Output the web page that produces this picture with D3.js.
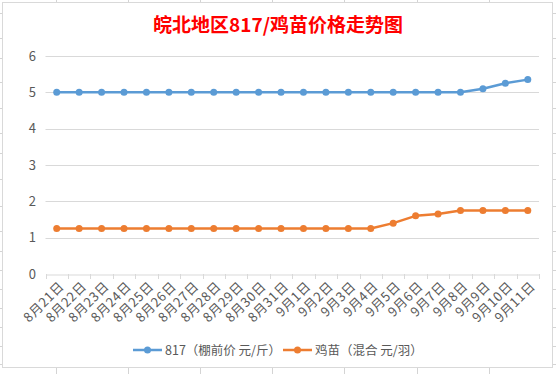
<!DOCTYPE html>
<html>
<head>
<meta charset="utf-8">
<script src="https://cdn.jsdelivr.net/npm/d3@7"></script>
<style>
  body { margin: 0; background: #fff; }
  svg { display: block; font-family: "Noto Sans CJK SC", "Noto Sans", sans-serif; }
</style>
</head>
<body>
<svg id="chart" width="556" height="374"></svg>
<script>
// dates on the x axis
const dates = ["8月21日","8月22日","8月23日","8月24日","8月25日","8月26日","8月27日","8月28日","8月29日","8月30日","8月31日",
  "9月1日","9月2日","9月3日","9月4日","9月5日","9月6日","9月7日","9月8日","9月9日","9月10日","9月11日"];
// 817 shed price, yuan per jin
const price817 = [5,5,5,5,5,5,5,5,5,5,5,5,5,5,5,5,5,5,5,5.1,5.25,5.35];
// chick price, yuan each
const priceChick = [1.25,1.25,1.25,1.25,1.25,1.25,1.25,1.25,1.25,1.25,1.25,1.25,1.25,1.25,1.25,1.4,1.6,1.65,1.75,1.75,1.75,1.75];
const yTicks = [0,1,2,3,4,5,6];
const seriesNames = ["817（棚前价 元/斤）", "鸡苗（混合 元/羽）"];
const colors = ["#5B9BD5", "#ED7D31"];

const svg = d3.select("#chart");

// spreadsheet grid stubs round the chart object
const cols = [56,128,200,272,344,417,489];
const rows = [13,38,58,82,108,133,153,179,206,231,251,270,289,308,327,346,364];
cols.forEach(x => {
  svg.append("line").attr("x1", x+0.5).attr("x2", x+0.5).attr("y1", 0).attr("y2", 3).attr("stroke", "#d4d4d4");
  svg.append("line").attr("x1", x+0.5).attr("x2", x+0.5).attr("y1", 368).attr("y2", 374).attr("stroke", "#d4d4d4");
});
rows.forEach(y => {
  svg.append("line").attr("x1", 0).attr("x2", 3).attr("y1", y+0.5).attr("y2", y+0.5).attr("stroke", "#d4d4d4");
  svg.append("line").attr("x1", 553).attr("x2", 556).attr("y1", y+0.5).attr("y2", y+0.5).attr("stroke", "#d4d4d4");
});

// chart box
svg.append("rect").attr("x", 2.5).attr("y", 2.5).attr("width", 550).attr("height", 365)
  .attr("fill", "#fff").attr("stroke", "#d9d9d9");

svg.append("text")
  .attr("x", 278).attr("y", 32)
  .attr("text-anchor", "middle")
  .attr("fill", "#ff0000")
  .style("font-size", "19px").style("font-weight", "bold")
  .text("皖北地区817/鸡苗价格走势图");

const plotLeft = 45.5, plotRight = 539, plotTop = 56, plotBottom = 274;

const x = d3.scaleBand().domain(dates).range([plotLeft, plotRight]);
const y = d3.scaleLinear().domain([0, 6]).range([plotBottom, plotTop]);

// gridlines
svg.append("g").selectAll("line")
  .data(yTicks.filter(d => d > 0))
  .enter().append("line")
  .attr("x1", plotLeft).attr("x2", plotRight)
  .attr("y1", d => Math.round(y(d)) + 0.5).attr("y2", d => Math.round(y(d)) + 0.5)
  .attr("stroke", "#d9d9d9");

// y labels
svg.append("g").selectAll("text")
  .data(yTicks)
  .enter().append("text")
  .attr("x", 36).attr("y", d => y(d) + 4.5)
  .attr("text-anchor", "end")
  .attr("fill", "#595959")
  .style("font-size", "13px")
  .text(d => d);

// x axis
const xAxis = svg.append("g")
  .attr("transform", `translate(0,${Math.round(plotBottom) + 0.5})`)
  .call(d3.axisBottom(x).tickSize(0).tickFormat(""));
xAxis.select(".domain").attr("stroke", "#d9d9d9");
svg.append("g").selectAll("line")
  .data(d3.range(dates.length + 1))
  .enter().append("line")
  .attr("x1", i => Math.round(plotLeft + i * x.step()) + 0.5)
  .attr("x2", i => Math.round(plotLeft + i * x.step()) + 0.5)
  .attr("y1", plotBottom).attr("y2", plotBottom + 5)
  .attr("stroke", "#d9d9d9");

svg.append("g").selectAll("text")
  .data(dates)
  .enter().append("text")
  .attr("transform", d => `translate(${x(d) + x.bandwidth() / 2 + 5},${plotBottom + 10}) rotate(-45)`)
  .attr("text-anchor", "end")
  .attr("dy", "0.35em")
  .attr("fill", "#595959")
  .style("font-size", "13px")
  .style("letter-spacing", "0.6px")
  .text(d => d);

// series
const cx = d => x(d) + x.bandwidth() / 2;
[price817, priceChick].forEach((vals, k) => {
  const pts = dates.map((d, i) => [cx(d), y(vals[i])]);
  svg.append("path")
    .attr("d", d3.line()(pts))
    .attr("fill", "none")
    .attr("stroke", colors[k])
    .attr("stroke-width", 2.5)
    .attr("stroke-linejoin", "round");
  svg.append("g").selectAll("circle")
    .data(pts)
    .enter().append("circle")
    .attr("cx", p => p[0]).attr("cy", p => p[1]).attr("r", 3.5)
    .attr("fill", colors[k]);
});

// legend
const legendX = [133, 283];
seriesNames.forEach((name, k) => {
  const g = svg.append("g").attr("transform", `translate(${legendX[k]},350)`);
  g.append("line").attr("x1", 0).attr("x2", 29).attr("y1", 0).attr("y2", 0)
    .attr("stroke", colors[k]).attr("stroke-width", 2.5);
  g.append("circle").attr("cx", 14.5).attr("cy", 0).attr("r", 3.5).attr("fill", colors[k]);
  g.append("text").attr("x", 32).attr("y", 4.5)
    .attr("fill", "#595959").style("font-size", "12.5px").text(name);
});
</script>
</body>
</html>
